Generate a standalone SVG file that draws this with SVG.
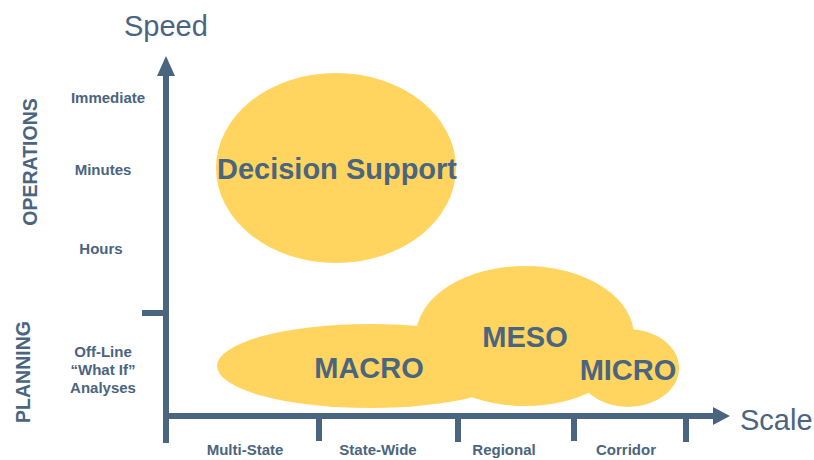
<svg xmlns="http://www.w3.org/2000/svg" width="814" height="460" viewBox="0 0 814 460">
<style>
.ax{stroke:#4a6580;stroke-width:6;fill:none}
.blob{fill:#ffd45f}
.big{font-family:"Liberation Sans",Arial,sans-serif;font-weight:bold;font-size:29px;fill:#4a6580;text-anchor:middle}
.lbl{font-family:"Liberation Sans",Arial,sans-serif;font-weight:bold;font-size:15px;fill:#4a6580;text-anchor:middle}
.side{font-family:"Liberation Sans",Arial,sans-serif;font-weight:bold;font-size:19.5px;fill:#4a6580;text-anchor:middle}
.title{font-family:"Liberation Sans",Arial,sans-serif;font-size:29px;fill:#4a6580}
</style>
<rect width="814" height="460" fill="#fff"/>
<g id="decision-support">
<ellipse class="blob" cx="336" cy="168" rx="120" ry="95"/>
<text class="big" x="337" y="179">Decision Support</text>
</g>
<g id="blobs">
<ellipse class="blob" cx="370" cy="366" rx="153" ry="42"/>
<ellipse class="blob" cx="525" cy="336" rx="109" ry="70"/>
<ellipse class="blob" cx="628" cy="368" rx="51" ry="39"/>
</g>
<g id="macro"><text class="big" x="369" y="378">MACRO</text></g>
<g id="meso"><text class="big" x="525" y="347">MESO</text></g>
<g id="micro"><text class="big" x="628" y="380">MICRO</text></g>
<g id="axes">
<line class="ax" x1="166" y1="72" x2="166" y2="443"/>
<polygon points="166,56 157,76 175,76" fill="#4a6580"/>
<line class="ax" x1="142" y1="313" x2="166" y2="313"/>
<line class="ax" x1="163" y1="416" x2="716" y2="416"/>
<polygon points="730,416 713,407 713,425" fill="#4a6580"/>
<line class="ax" x1="319" y1="416" x2="319" y2="441"/>
<line class="ax" x1="458" y1="416" x2="458" y2="442"/>
<line class="ax" x1="574" y1="416" x2="574" y2="441"/>
<line class="ax" x1="686" y1="416" x2="686" y2="442"/>
</g>
<g id="labels">
<text class="title" x="124" y="36">Speed</text>
<text class="title" x="740" y="430">Scale</text>
<text class="lbl" x="108" y="103">Immediate</text>
<text class="lbl" x="103" y="175">Minutes</text>
<text class="lbl" x="101" y="254">Hours</text>
<text class="lbl" x="103" y="357">Off-Line</text>
<text class="lbl" x="103" y="375">“What If”</text>
<text class="lbl" x="103" y="393">Analyses</text>
<text class="lbl" x="245" y="455">Multi-State</text>
<text class="lbl" x="378" y="455">State-Wide</text>
<text class="lbl" x="504" y="455">Regional</text>
<text class="lbl" x="626" y="455">Corridor</text>
<text class="side" transform="translate(37,162) rotate(-90)">OPERATIONS</text>
<text class="side" transform="translate(30,372) rotate(-90)">PLANNING</text>
</g>
</svg>
